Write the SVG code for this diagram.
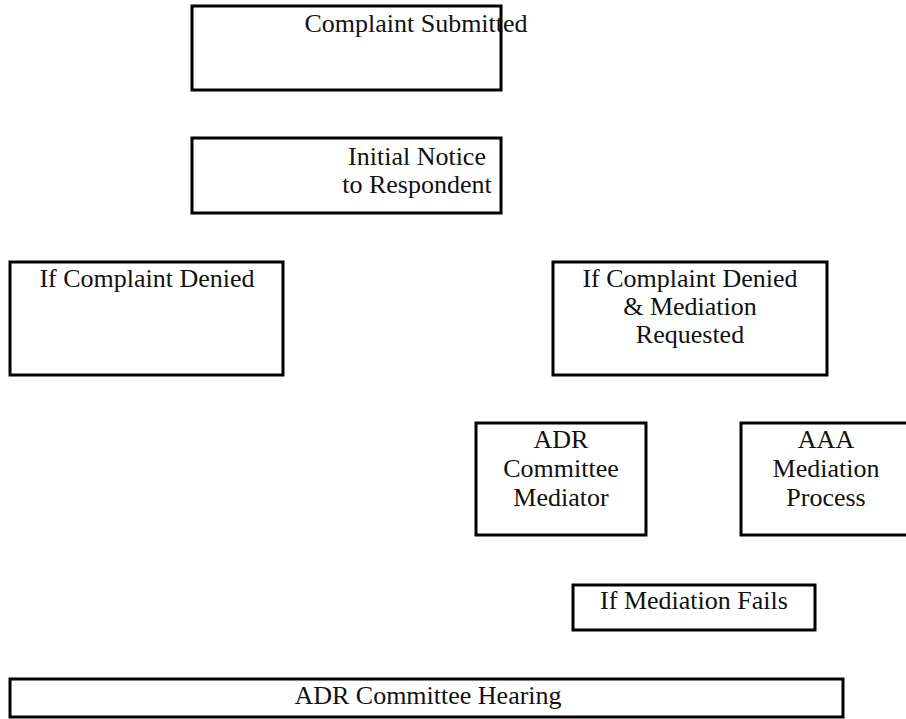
<svg xmlns="http://www.w3.org/2000/svg" width="906" height="719" viewBox="0 0 906 719">
<style>
.box{fill:#fff;stroke:#000;stroke-width:3}
.t{font-family:"Liberation Serif","DejaVu Serif",serif;font-size:26px;fill:#111;text-anchor:middle}
</style>
<rect width="906" height="719" fill="#fff"/>
<g id="connectors"></g>
<g id="complaint-submitted">
<rect class="box" x="192" y="6" width="309" height="84"/>
<text class="t" x="416" y="32">Complaint Submitted</text>
</g>
<g id="initial-notice">
<rect class="box" x="192" y="138" width="309" height="75"/>
<text class="t" x="417" y="165">Initial Notice</text>
<text class="t" x="417" y="193">to Respondent</text>
</g>
<g id="complaint-denied">
<rect class="box" x="10" y="262" width="273" height="113"/>
<text class="t" x="147" y="287">If Complaint Denied</text>
</g>
<g id="denied-mediation">
<rect class="box" x="553" y="262" width="274" height="113"/>
<text class="t" x="690" y="287">If Complaint Denied</text>
<text class="t" x="690" y="315">&amp; Mediation</text>
<text class="t" x="690" y="343">Requested</text>
</g>
<g id="adr-mediator">
<rect class="box" x="476" y="423" width="170" height="112"/>
<text class="t" x="561" y="448">ADR</text>
<text class="t" x="561" y="477">Committee</text>
<text class="t" x="561" y="506">Mediator</text>
</g>
<g id="aaa-mediation">
<rect class="box" x="741" y="423" width="170" height="112"/>
<text class="t" x="826" y="448">AAA</text>
<text class="t" x="826" y="477">Mediation</text>
<text class="t" x="826" y="506">Process</text>
</g>
<g id="mediation-fails">
<rect class="box" x="573" y="585" width="242" height="45"/>
<text class="t" x="694" y="609">If Mediation Fails</text>
</g>
<g id="adr-hearing">
<rect class="box" x="10" y="679" width="833" height="38"/>
<text class="t" x="428" y="704">ADR Committee Hearing</text>
</g>
</svg>
